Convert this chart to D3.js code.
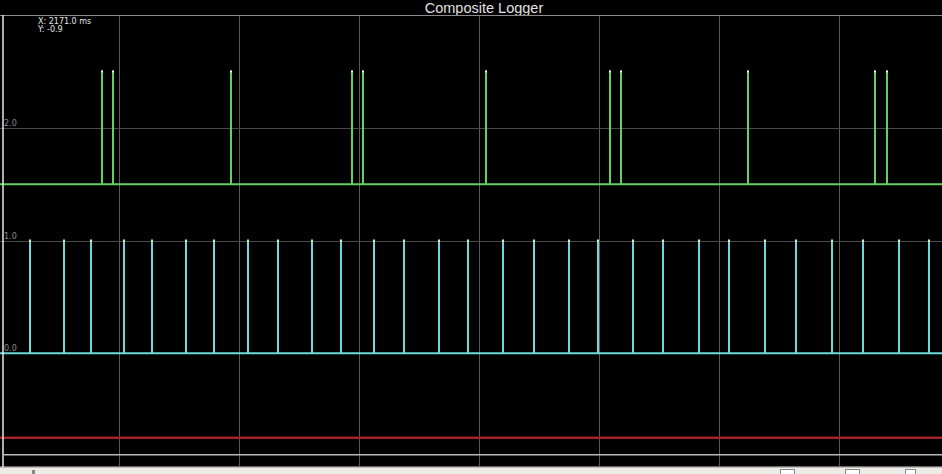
<!DOCTYPE html>
<html>
<head>
<meta charset="utf-8">
<script src="https://cdn.jsdelivr.net/npm/d3@7"></script>
<style>
html,body{margin:0;padding:0;background:#000;overflow:hidden;}
svg{display:block;}
</style>
</head>
<body>
<svg id="chart" width="942" height="474"></svg>
<script>
// ---- data ----
const title = "Composite Logger";
const xDomain = [2170.25, 2405.75];           // ms
const yDomain = [-1, 3];
const xGridTicks = [2200, 2230, 2260, 2290, 2320, 2350, 2380];
const yGridTicks = [0, 1, 2];
const yTickLabels = ["0.0", "1.0", "2.0"];
// green trace (baseline 1.5, pulses to 2.5)
const greenBase = 1.5, greenHigh = 2.5;
const greenPulses = [2195.75, 2198.5, 2228.0, 2258.25, 2261.0, 2291.75, 2322.75, 2325.5, 2357.25, 2389.0, 2392.0];
// cyan trace (baseline 0, pulses to 1)
const cyanBase = 0, cyanHigh = 1;
const cyanPulses = [2177.75, 2186.25, 2193.0, 2201.25, 2208.25, 2216.75, 2223.75, 2232.25, 2239.75, 2248.25,
  2255.5, 2263.75, 2271.25, 2280.0, 2287.25, 2296.0, 2303.75, 2312.5, 2319.75, 2328.5,
  2336.0, 2345.0, 2352.5, 2361.5, 2369.25, 2378.25, 2386.0, 2395.0, 2402.5];
// red trace (flat)
const redValue = -0.75;
// cursor
const cursorX = 2171.0, cursorY = -0.9;

// ---- drawing ----
const W = 942, H = 474;
const plot = {left: 0, right: 942, top: 15, bottom: 466};
const svg = d3.select("#chart");
svg.append("rect").attr("width", W).attr("height", H).attr("fill", "#000");

const x = d3.scaleLinear().domain(xDomain).range([plot.left, plot.right]);
const y = d3.scaleLinear().domain(yDomain).range([plot.bottom, plot.top]);

// title
svg.append("text").attr("x", 484).attr("y", 13).attr("text-anchor", "middle")
  .attr("font-family", "Liberation Sans, Arial, sans-serif").attr("font-size", 14.5)
  .attr("fill", "#e0e0e0").text(title);

// vertical grid via axis
const xAxis = d3.axisBottom(x).tickValues(xGridTicks).tickSize(-(plot.bottom - plot.top)).tickFormat("");
const gx = svg.append("g").attr("transform", `translate(0,${plot.bottom})`).call(xAxis);
gx.select(".domain").remove();
gx.selectAll(".tick line").attr("stroke", "#5a5a5a").attr("shape-rendering", "crispEdges");

// horizontal grid via axis
const yAxis = d3.axisLeft(y).tickValues(yGridTicks).tickSize(-(plot.right - plot.left)).tickFormat("");
const gy = svg.append("g").attr("transform", `translate(${plot.left},0)`).call(yAxis);
gy.select(".domain").remove();
gy.selectAll(".tick line").attr("stroke", "#4a4a4a").attr("shape-rendering", "crispEdges");

// borders
svg.append("line").attr("x1", 0).attr("x2", W).attr("y1", plot.top + 0.5).attr("y2", plot.top + 0.5)
  .attr("stroke", "#8a8a8a");
svg.append("line").attr("x1", 0).attr("x2", W).attr("y1", plot.bottom + 0.5).attr("y2", plot.bottom + 0.5)
  .attr("stroke", "#6a6a6a");

// y tick labels
svg.selectAll("text.ylab").data(yGridTicks).enter().append("text").attr("class", "ylab")
  .attr("x", 4).attr("y", d => y(d) - 2)
  .attr("font-family", "DejaVu Sans, sans-serif").attr("font-size", 8)
  .attr("fill", "#8c8c8c").text((d, i) => yTickLabels[i]);

// traces
const line = d3.line().x(d => x(d[0])).y(d => y(d[1]));
function pulseData(pulses, lo, hi) {
  const pts = [[xDomain[0], lo]];
  pulses.forEach(p => { pts.push([p, lo], [p, hi], [p, lo]); });
  pts.push([xDomain[1], lo]);
  return pts;
}
// red
svg.append("path").datum([[xDomain[0], redValue], [xDomain[1], redValue]])
  .attr("d", line).attr("fill", "none").attr("stroke", "#a32327").attr("stroke-width", 2.6);
// cyan
svg.append("path").datum(pulseData(cyanPulses, cyanBase, cyanHigh))
  .attr("d", line).attr("fill", "none").attr("stroke", "#6fd9d9").attr("stroke-width", 2)
  .attr("stroke-linejoin", "miter");
// green
svg.append("path").datum(pulseData(greenPulses, greenBase, greenHigh))
  .attr("d", line).attr("fill", "none").attr("stroke", "#63d063").attr("stroke-width", 2)
  .attr("stroke-linejoin", "miter");

// top markers
svg.selectAll("rect.gm").data(greenPulses).enter().append("rect").attr("class", "gm")
  .attr("x", d => x(d) - 1).attr("y", y(greenHigh) - 1).attr("width", 2).attr("height", 2).attr("fill", "#f4f4d0");
svg.selectAll("rect.cm").data(cyanPulses).enter().append("rect").attr("class", "cm")
  .attr("x", d => x(d) - 1).attr("y", y(cyanHigh) - 1).attr("width", 2).attr("height", 2).attr("fill", "#f4f0c0");

// cursor
svg.append("line").attr("x1", x(cursorX)).attr("x2", x(cursorX)).attr("y1", plot.top).attr("y2", plot.bottom + 1)
  .attr("stroke", "#e8e8e8").attr("stroke-width", 1.5);
svg.append("line").attr("x1", x(cursorX)).attr("x2", W).attr("y1", y(cursorY)).attr("y2", y(cursorY))
  .attr("stroke", "#b8b8b8").attr("stroke-width", 1.5);

svg.append("text").attr("x", 38).attr("y", 24)
  .attr("font-family", "DejaVu Sans, sans-serif").attr("font-size", 8).attr("fill", "#e6e6e6")
  .text(`X: ${cursorX.toFixed(1)} ms`);
svg.append("text").attr("x", 38).attr("y", 32)
  .attr("font-family", "DejaVu Sans, sans-serif").attr("font-size", 8).attr("fill", "#e6e6e6")
  .text(`Y: ${cursorY.toFixed(1)}`);

// bottom control strip
svg.append("rect").attr("x", 0).attr("y", 468).attr("width", W).attr("height", 6).attr("fill", "#ecebe6");
svg.append("line").attr("x1", 0).attr("x2", W).attr("y1", 467.5).attr("y2", 467.5).attr("stroke", "#bdbdbd");
svg.append("rect").attr("x", 32).attr("y", 470).attr("width", 3).attr("height", 4).attr("fill", "#888");
[[780, 14], [845, 14], [905, 10]].forEach(([bx, bw]) => {
  svg.append("rect").attr("x", bx + 0.5).attr("y", 469.5).attr("width", bw).attr("height", 6)
    .attr("fill", "#fff").attr("stroke", "#8a8a8a");
});
</script>
</body>
</html>
